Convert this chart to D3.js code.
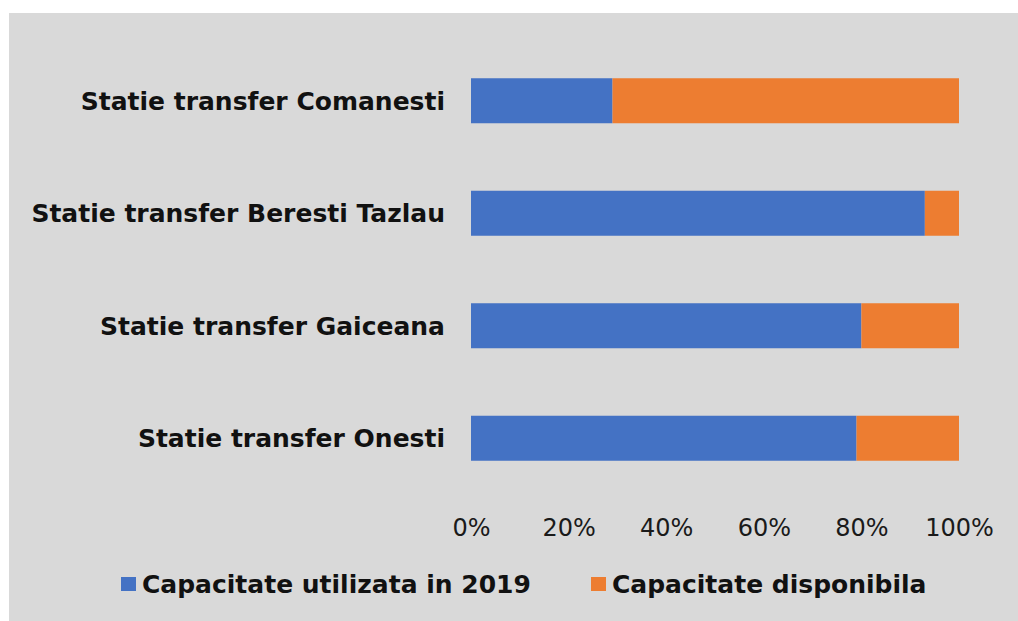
<!DOCTYPE html>
<html>
<head>
<meta charset="utf-8">
<script src="https://cdn.jsdelivr.net/npm/d3@7"></script>
<style>
  body { margin: 0; background: #fff; }
  svg { display: block; }
  .tick text { font-family: 'DejaVu Sans', Verdana, sans-serif; }
</style>
</head>
<body>
<div id="chart"></div>
<script>
// data
const categories = ['Statie transfer Comanesti', 'Statie transfer Beresti Tazlau', 'Statie transfer Gaiceana', 'Statie transfer Onesti']
const utilizata = [29, 93, 80, 79]
const disponibila = [71, 7, 20, 21]
const seriesNames = ['Capacitate utilizata in 2019', 'Capacitate disponibila']
const tickValues = [0, 20, 40, 60, 80, 100]

const colors = ['#4472C4', '#ED7D31']
const width = 1018, height = 621

const rows = categories.map((c, i) => ({ cat: c, s0: utilizata[i], s1: disponibila[i] }))
const stacked = d3.stack().keys(['s0', 's1'])(rows)

const svg = d3.select('#chart')
    .append('svg')
        .attr('width', width)
        .attr('height', height)

// gray panel
svg.append('rect')
    .attr('x', 9).attr('y', 13)
    .attr('width', width - 9).attr('height', height - 13)
    .attr('fill', '#d9d9d9')

const x = d3.scaleLinear().domain([0, 100]).range([471, 959])
const y = d3.scaleBand().domain(categories).range([44.5, 494.5]).paddingInner(0.6).paddingOuter(0.3)

svg.append('g')
    .selectAll('g')
    .data(stacked)
    .enter()
    .append('g')
        .attr('fill', (d, i) => colors[i])
        .selectAll('rect')
        .data(d => d)
        .enter()
        .append('rect')
            .attr('x', d => x(d[0]))
            .attr('y', d => y(d.data.cat))
            .attr('width', d => x(d[1]) - x(d[0]))
            .attr('height', y.bandwidth())

// category labels
svg.append('g')
    .selectAll('text')
    .data(categories)
    .enter()
    .append('text')
        .attr('x', 445)
        .attr('y', d => y(d) + y.bandwidth() / 2)
        .attr('dy', '0.36em')
        .attr('text-anchor', 'end')
        .style('font-family', "'DejaVu Sans', Verdana, sans-serif")
        .style('font-weight', 'bold')
        .style('font-size', '25px')
        .style('fill', '#111')
        .text(d => d)

// x axis, labels only
const xAxis = svg.append('g')
    .attr('transform', 'translate(0,519)')
    .call(d3.axisBottom(x).tickValues(tickValues).tickFormat(d => d + '%').tickSize(0).tickPadding(0))
xAxis.select('.domain').remove()
xAxis.selectAll('text')
    .attr('dy', '0.71em')
    .style('font-size', '24px')
    .style('fill', '#1a1a1a')

// legend
const legendX = [121, 591]
const legend = svg.append('g')
    .selectAll('g')
    .data(seriesNames)
    .enter()
    .append('g')
        .attr('transform', (d, i) => `translate(${legendX[i]},584)`)
legend.append('rect')
    .attr('x', 0).attr('y', -7)
    .attr('width', 15).attr('height', 14)
    .attr('fill', (d, i) => colors[i])
legend.append('text')
    .attr('x', 21)
    .attr('dy', '0.36em')
    .style('font-family', "'DejaVu Sans', Verdana, sans-serif")
    .style('font-weight', 'bold')
    .style('font-size', '25px')
    .style('fill', '#111')
    .text(d => d)
</script>
</body>
</html>
